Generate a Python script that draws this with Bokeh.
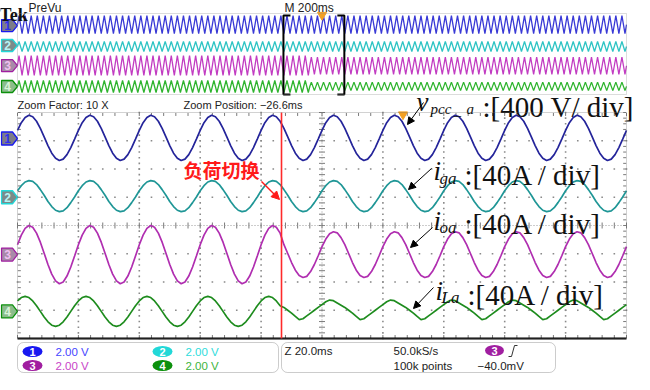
import numpy as np
from bokeh.plotting import figure
from bokeh.models import Range1d, BoxAnnotation, Arrow, NormalHead
from bokeh.core.properties import value
from bokeh.embed import file_html
from bokeh.resources import INLINE

# ---------------- data ----------------
# zoom window: 10 div x 20 ms/div, 8 div vertical
ZOOM_MS_PER_DIV = 20.0
OV_MS_PER_DIV = 200.0
TRIGGER_MS = 1000.0            # trigger at overview centre
ZOOM_POSITION_MS = -26.6
SWITCH_MS = 86.7               # load switching, ms into zoom window
SAMPLE_MS = 1.25               # 16 samples per 20 ms cycle

# one 20 ms cycle of each trace (divisions), before / after load switching
ch1_cycle_before = [3.37, 3.64, 3.82, 3.90, 3.85, 3.69, 3.44, 3.14, 2.83, 2.56, 2.38, 2.30, 2.35, 2.51, 2.76, 3.06]
ch1_cycle_after = [3.37, 3.64, 3.82, 3.90, 3.85, 3.69, 3.44, 3.14, 2.83, 2.56, 2.38, 2.30, 2.35, 2.51, 2.76, 3.06]
ch2_cycle_before = [1.23, 1.41, 1.54, 1.59, 1.56, 1.45, 1.27, 1.07, 0.85, 0.67, 0.54, 0.49, 0.52, 0.63, 0.81, 1.01]
ch2_cycle_after = [1.23, 1.41, 1.54, 1.59, 1.56, 1.45, 1.27, 1.07, 0.85, 0.67, 0.54, 0.49, 0.52, 0.63, 0.81, 1.01]
ch3_cycle_before = [-0.68, -0.34, -0.10, 0.00, -0.06, -0.27, -0.59, -0.98, -1.38, -1.72, -1.96, -2.06, -2.00, -1.79, -1.47, -1.08]
ch3_cycle_after = [-0.75, -0.48, -0.29, -0.22, -0.26, -0.43, -0.68, -0.99, -1.31, -1.58, -1.77, -1.84, -1.80, -1.63, -1.38, -1.07]
ch4_cycle_before = [-2.67, -2.55, -2.51, -2.55, -2.67, -2.84, -3.04, -3.24, -3.41, -3.53, -3.57, -3.53, -3.41, -3.24, -3.04, -2.84]
ch4_cycle_after = [-2.80, -2.70, -2.64, -2.66, -2.74, -2.82, -2.90, -3.00, -3.10, -3.22, -3.33, -3.30, -3.20, -3.10, -3.00, -2.90]

# overview: 4 samples per 20 ms cycle (divisions)
OV_SAMPLE_MS = 5.0
ov1_cycle_before = [2.91, 3.80, 2.91, 2.02]
ov1_cycle_after = [2.91, 3.80, 2.91, 2.02]
ov2_cycle_before = [0.74, 1.23, 0.74, 0.25]
ov2_cycle_after = [0.74, 1.23, 0.74, 0.25]
ov3_cycle_before = [-1.14, -0.15, -1.14, -2.12]
ov3_cycle_after = [-1.16, -0.30, -1.16, -2.02]
ov4_cycle_before = [-3.21, -2.62, -3.21, -3.80]
ov4_cycle_after = [-3.20, -2.78, -3.20, -3.62]

zoom_offsets = [3.08, 1.00, -1.03, -3.04]
ov_offsets = [2.81, 0.84, -1.14, -3.21]
channels = ["1", "2", "3", "4"]
volts_per_div = ["2.00 V", "2.00 V", "2.00 V", "2.00 V"]
trace_colors = ["#24249a", "#1f9696", "#b02eb0", "#1e8c1e"]
ov_colors = ["#3a3ad6", "#2ec4c4", "#c23cc2", "#2eb42e"]
badge_colors = ["#1818f0", "#22d8d8", "#a01ea0", "#0c900c"]
text_colors = ["#4646ff", "#2edcdc", "#c844c8", "#3cb43c"]
marker_fill = ["#7c7c88", "#7c8a8a", "#a88aa8", "#8cbc8c"]
marker_text = ["#3030ee", "#b8f4f4", "#f0c0f0", "#d8f4d8"]
labels_main = [":[400 V/ div]", ":[40A / div]", ":[40A / div]", ":[40A / div]"]

# ---------------- figure ----------------
W, H = 634, 374
def Y(v):
    return H - v

p = figure(width=W, height=H, x_range=Range1d(0, W), y_range=Range1d(0, H),
           output_backend="svg", toolbar_location=None,
           x_axis_location=None, y_axis_location=None, min_border=0)
p.outline_line_color = None
p.grid.visible = False
p.background_fill_color = "white"
p.border_fill_color = "white"

# panel geometry (pixels of the reference)
ZL, ZR, ZT, ZB = 17, 626, 112, 338
OL, OR, OT, OB = 17, 626, 13, 94
px_ms = (ZR - ZL) / (10 * ZOOM_MS_PER_DIV)
px_div = (ZB - ZT) / 8.0
zc = (ZT + ZB) / 2.0
opx_ms = (OR - OL) / (10 * OV_MS_PER_DIV)
opx_div = (OB - OT) / 8.0
oc = (OT + OB) / 2.0

p.extra_x_ranges = {
    "zt": Range1d(-ZL / px_ms, (W - ZL) / px_ms),
    "ot": Range1d(-OL / opx_ms, (W - OL) / opx_ms),
}
p.extra_y_ranges = {
    "zd": Range1d(-Y(zc) / px_div, (H - Y(zc)) / px_div),
    "od": Range1d(-Y(oc) / opx_div, (H - Y(oc)) / opx_div),
}

# ---- overview panel ----
p.add_layout(BoxAnnotation(left=OL, right=OR, bottom=Y(OB), top=Y(OT),
                           fill_color=None, line_color="#8c8c8c", line_width=1))
n_ov = int(10 * OV_MS_PER_DIV / OV_SAMPLE_MS) + 1
t_ov = np.arange(n_ov) * OV_SAMPLE_MS
i_ov = np.arange(n_ov) % 4
zoom_start = TRIGGER_MS + ZOOM_POSITION_MS - 5 * ZOOM_MS_PER_DIV
ov_switch = zoom_start + SWITCH_MS
ov_sets = [(ov1_cycle_before, ov1_cycle_after), (ov2_cycle_before, ov2_cycle_after),
           (ov3_cycle_before, ov3_cycle_after), (ov4_cycle_before, ov4_cycle_after)]
for (b, a), col in zip(ov_sets, ov_colors):
    yv = np.where(t_ov < ov_switch, np.array(b)[i_ov], np.array(a)[i_ov])
    p.line(t_ov, yv, line_color=col, line_width=1.3, x_range_name="ot", y_range_name="od")

# zoom bracket
z0, z1 = zoom_start, zoom_start + 10 * ZOOM_MS_PER_DIV
tk = 7 / opx_ms
p.multi_line(xs=[[z0 + tk, z0, z0, z0 + tk], [z1 - tk, z1, z1, z1 - tk]],
             ys=[[3.8, 3.8, -4.0, -4.0], [3.8, 3.8, -4.0, -4.0]],
             line_color="black", line_width=2, x_range_name="ot", y_range_name="od")
p.scatter([TRIGGER_MS], [3.85], marker="inverted_triangle", size=9, fill_color="#f2a024",
          line_color="#f2a024", x_range_name="ot", y_range_name="od")

# ---- zoom panel grid ----
gx, gy = [], []
for xm in [20, 40, 60, 80, 120, 140, 160, 180]:
    for yd in np.arange(-4, 4.01, 0.2):
        gx.append(xm); gy.append(yd)
for yd in [-3, -2, -1, 1, 2, 3]:
    for xm in np.arange(0, 200.1, 4):
        gx.append(xm); gy.append(yd)
p.scatter(gx, gy, marker="square", size=1.6, fill_color="#8a8a8a", line_color=None,
          x_range_name="zt", y_range_name="zd")
# centre cross with minor ticks
cy = np.arange(-4, 4.01, 0.2)
cx = np.arange(0, 200.1, 4)
p.scatter([100] * len(cy), cy, marker="dash", size=6, line_color="#7a7a7a", line_width=1,
          x_range_name="zt", y_range_name="zd")
p.scatter(cx, [0] * len(cx), marker="dash", size=6, angle=np.pi / 2, line_color="#7a7a7a",
          line_width=1, x_range_name="zt", y_range_name="zd")
p.line([0, 200], [0, 0], line_color="#9a9a9a", line_width=1, line_dash="1 2",
       x_range_name="zt", y_range_name="zd")
p.line([100, 100], [-4, 4], line_color="#9a9a9a", line_width=1, line_dash="1 2",
       x_range_name="zt", y_range_name="zd")
# edge ticks
p.scatter([0.6] * len(cy), cy, marker="dash", size=3, line_color="#7a7a7a",
          x_range_name="zt", y_range_name="zd")
p.scatter([199.4] * len(cy), cy, marker="dash", size=3, line_color="#7a7a7a",
          x_range_name="zt", y_range_name="zd")
p.scatter(cx, [-3.93] * len(cx), marker="dash", size=3, angle=np.pi / 2, line_color="#7a7a7a",
          x_range_name="zt", y_range_name="zd")
p.scatter(cx, [3.93] * len(cx), marker="dash", size=3, angle=np.pi / 2, line_color="#7a7a7a",
          x_range_name="zt", y_range_name="zd")

p.add_layout(BoxAnnotation(left=ZL, right=ZR, bottom=Y(ZB), top=Y(ZT),
                           fill_color=None, line_color="#6a6a6a", line_width=1))
p.line([0, 200], [-4, -4], line_color="black", line_width=2, x_range_name="zt", y_range_name="zd")

# ---- zoom traces ----
n_z = int(10 * ZOOM_MS_PER_DIV / SAMPLE_MS) + 1
t_z = np.arange(n_z) * SAMPLE_MS
i_z = np.arange(n_z) % 16
z_sets = [(ch1_cycle_before, ch1_cycle_after), (ch2_cycle_before, ch2_cycle_after),
          (ch3_cycle_before, ch3_cycle_after), (ch4_cycle_before, ch4_cycle_after)]
for (b, a), col in zip(z_sets, trace_colors):
    yv = np.where(t_z < SWITCH_MS, np.array(b)[i_z], np.array(a)[i_z])
    p.line(t_z, yv, line_color=col, line_width=1.7, x_range_name="zt", y_range_name="zd")

# switching line
p.line([SWITCH_MS, SWITCH_MS], [-4, 4], line_color="#ff2a2a", line_width=1.6,
       x_range_name="zt", y_range_name="zd")
p.scatter([TRIGGER_MS - zoom_start], [3.93], marker="inverted_triangle", size=9,
          fill_color="#f2a024", line_color="#f2a024", x_range_name="zt", y_range_name="zd")

# ---- channel markers ----
def markers(offsets, half, yname):
    xs = [[1, 12, 17, 12, 1] for _ in offsets]
    ys = [[o + half, o + half, o, o - half, o - half] for o in offsets]
    p.patches(xs, ys, fill_color=marker_fill, line_color=badge_colors, line_width=1.3,
              y_range_name=yname)
    p.text([7] * 4, offsets, text=channels, text_font=value("Liberation Sans"),
           text_font_size="12px", text_font_style="bold", text_color=marker_text,
           text_align="center", text_baseline="middle", y_range_name=yname)

markers(zoom_offsets, 6.5 / px_div, "zd")
markers(ov_offsets, 6.0 / opx_div, "od")

# ---- texts ----
def txt(x, y, s, size, color="#222222", font="Liberation Sans", style="normal",
        align="left", baseline="middle"):
    p.text([x], [Y(y)], text=[s], text_font=value(font), text_font_size=size,
           text_font_style=style, text_color=color, text_align=align, text_baseline=baseline)

txt(-1, 14, "Tek", "18px", color="#111111", font="Liberation Serif", style="bold", baseline="alphabetic")
txt(28, 7.5, "PreVu", "12px")
txt(284, 7.5, "M 200ms", "12px")
txt(17, 104, "Zoom Factor: 10 X", "11px")
txt(183, 104, "Zoom Position: \u2212%.1fms" % abs(ZOOM_POSITION_MS), "11px")

SERIF = "Liberation Serif"
INK = "#111111"
# v_pcc_a
txt(416, 101, "v", "27px", color=INK, font=SERIF, style="italic", baseline="alphabetic")
txt(430, 108, "pcc", "15px", color=INK, font=SERIF, style="italic", baseline="alphabetic")
txt(453, 109, "_", "15px", color=INK, font=SERIF, style="italic", baseline="alphabetic")
txt(466, 108, "a", "15px", color=INK, font=SERIF, style="italic", baseline="alphabetic")
txt(482, 106, labels_main[0], "29px", color=INK, font=SERIF, baseline="alphabetic")
# i_ga
txt(433, 170, "i", "27px", color=INK, font=SERIF, style="italic", baseline="alphabetic")
txt(439, 178, "ga", "17px", color=INK, font=SERIF, style="italic", baseline="alphabetic")
txt(464, 174, labels_main[1], "29px", color=INK, font=SERIF, baseline="alphabetic")
# i_oa
txt(433, 220, "i", "27px", color=INK, font=SERIF, style="italic", baseline="alphabetic")
txt(439, 227, "oa", "17px", color=INK, font=SERIF, style="italic", baseline="alphabetic")
txt(464, 223, labels_main[2], "29px", color=INK, font=SERIF, baseline="alphabetic")
# i_La
txt(435, 290, "i", "27px", color=INK, font=SERIF, style="italic", baseline="alphabetic")
txt(441, 297, "La", "17px", color=INK, font=SERIF, style="italic", baseline="alphabetic")
txt(467, 294, labels_main[3], "29px", color=INK, font=SERIF, baseline="alphabetic")

# arrows
for (x0, y0, x1, y1) in [(423, 102, 407, 124), (431, 168, 408, 189),
                         (432, 227, 410, 247), (433, 287, 413, 308)]:
    p.add_layout(Arrow(end=NormalHead(size=7, fill_color="black", line_color="black"),
                       x_start=x0, y_start=Y(y0), x_end=x1, y_end=Y(y1),
                       line_color="black", line_width=1))

txt(183, 169, "负荷切换", "19px", color="#ff1a1a", font="Noto Sans CJK SC", style="bold")
p.add_layout(Arrow(end=NormalHead(size=8, fill_color="#ff1a1a", line_color="#ff1a1a"),
                   x_start=261, y_start=Y(181), x_end=279, y_end=Y(199),
                   line_color="#ff1a1a", line_width=1.5))

# ---- bottom info boxes ----
p.add_layout(BoxAnnotation(left=17, right=278, bottom=Y(372), top=Y(342), border_radius=6,
                           fill_color=None, line_color="#555555", line_width=1))
p.add_layout(BoxAnnotation(left=281, right=555, bottom=Y(372), top=Y(342), border_radius=6,
                           fill_color=None, line_color="#555555", line_width=1))
bx = [32, 162, 32, 162]
by = [351, 351, 365, 365]
p.ellipse(bx, [Y(v) for v in by], width=20, height=11, fill_color=badge_colors, line_color=None)
p.text(bx, [Y(v) for v in by], text=channels, text_font=value("Liberation Sans"),
       text_font_size="11px", text_font_style="bold", text_color="white",
       text_align="center", text_baseline="middle")
p.text([v + 23 for v in bx], [Y(v) for v in by], text=volts_per_div,
       text_font=value("Liberation Sans"), text_font_size="11.5px", text_color=text_colors,
       text_align="left", text_baseline="middle")

txt(284, 350, "Z %.1fms" % ZOOM_MS_PER_DIV, "11.5px")
txt(393, 350, "50.0kS/s", "11.5px")
txt(393, 365, "100k points", "11.5px")
p.ellipse([494], [Y(350)], width=19, height=11, fill_color=badge_colors[2], line_color=None)
p.text([494], [Y(350)], text=["3"], text_font=value("Liberation Sans"), text_font_size="11px",
       text_font_style="bold", text_color="white", text_align="center", text_baseline="middle")
p.line([508, 511, 514, 517], [Y(356), Y(356), Y(345), Y(345)], line_color="#333333", line_width=1)
txt(477, 365, "\u221240.0mV", "11.5px")

open("out.html", "w").write(file_html(p, INLINE))
